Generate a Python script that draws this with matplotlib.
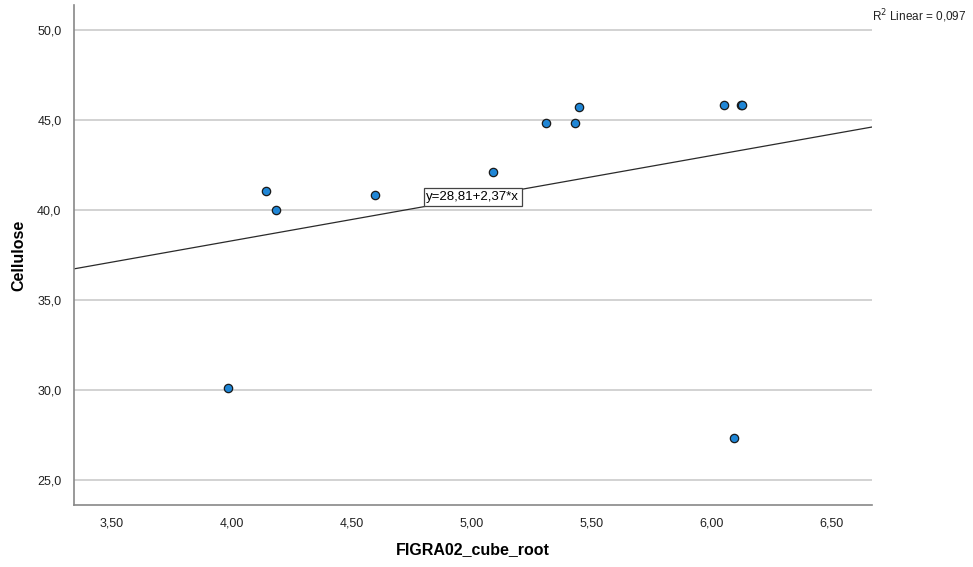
import numpy as np
import matplotlib.pyplot as plt

plt.rcParams['font.family'] = ['Liberation Sans', 'DejaVu Sans']

# observations
figra_cbrt = [3.985, 4.143, 4.185, 4.597, 5.088, 5.307, 5.430, 5.446, 6.051, 6.120, 6.125, 6.092]
cellulose = [30.13, 41.07, 40.02, 40.81, 42.11, 44.83, 44.83, 45.72, 45.83, 45.83, 45.83, 27.32]

# fitted line y = a + b*x
intercept = 28.81
slope = 2.37
r2 = 0.097

xticks = [3.5, 4.0, 4.5, 5.0, 5.5, 6.0, 6.5]
yticks = [25.0, 30.0, 35.0, 40.0, 45.0, 50.0]


def comma(v, nd):
    return f"{v:.{nd}f}".replace('.', ',')


fig = plt.figure(figsize=(9.73, 5.67), dpi=100)
ax = fig.add_axes([0.0761, 0.1093, 0.8201, 0.8819])

xlim = (3.342, 6.667)
ax.set_xlim(xlim)
ax.set_ylim(23.61, 51.39)

for y in yticks:
    ax.axhline(y, color='#d2d2d2', lw=1.4, zorder=0)

xs = np.array(xlim)
ax.plot(xs, intercept + slope * xs, color='#2a2a2a', lw=0.9, zorder=2)

ax.scatter(figra_cbrt, cellulose, s=36, facecolor='#1f86d6', edgecolor='#1a1a1a',
           linewidth=0.9, zorder=3)

ax.text(5.004, 40.72, f"y={comma(intercept, 2)}+{comma(slope, 2)}*x", fontsize=9.5,
        ha='center', va='center', zorder=4,
        bbox=dict(boxstyle='square,pad=0.2', fc='white', ec='#444444', lw=0.9))

ax.set_xticks(xticks)
ax.set_xticklabels([comma(v, 2) for v in xticks])
ax.set_yticks(yticks)
ax.set_yticklabels([comma(v, 1) for v in yticks])
ax.tick_params(length=0, labelsize=9, colors='#222222', pad=9)

for side in ['top', 'right']:
    ax.spines[side].set_visible(False)
for side in ['left', 'bottom']:
    ax.spines[side].set_color('#888888')
    ax.spines[side].set_linewidth(1.2)

ax.set_xlabel('FIGRA02_cube_root', fontsize=11.5, fontweight='bold', labelpad=9)
ax.set_ylabel('Cellulose', fontsize=11.5, fontweight='bold', labelpad=8)

fig.text(0.8962, 0.972, f"R$^2$ Linear = {comma(r2, 3)}", fontsize=8.5, ha='left', va='center',
         color='#222222')

fig.savefig('out.png', dpi=100, facecolor='white')
